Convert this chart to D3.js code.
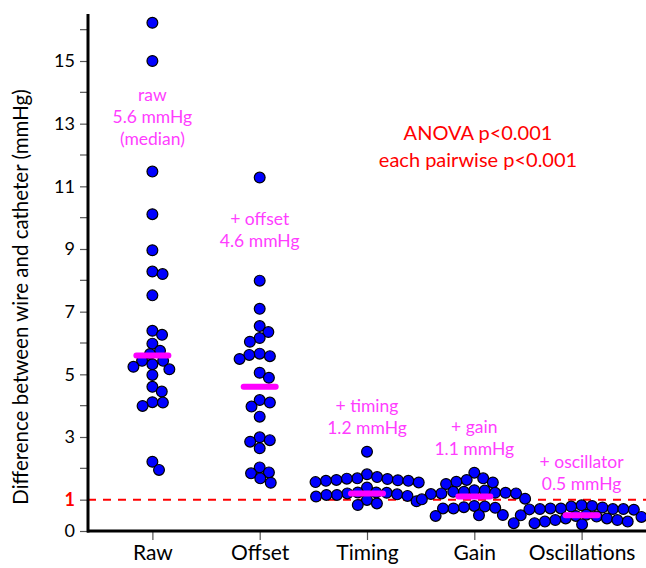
<!DOCTYPE html>
<html>
<head>
<meta charset="utf-8">
<script src="https://cdn.jsdelivr.net/npm/d3@7"></script>
<style>
  body { margin: 0; background: #fff; }
  svg { display: block; font-family: Lato, "Open Sans", sans-serif; }
</style>
</head>
<body>
<div id="chart"></div>
<script>
let width = 646, height = 568;

// Data
const categories = ['Raw', 'Offset', 'Timing', 'Gain', 'Oscillations'];
const rawValues = [16.22, 15.0, 11.47, 10.11, 8.96, 8.28, 8.2, 7.52, 6.39, 6.26, 5.98, 5.75, 5.65,
  5.43, 5.43, 5.32, 5.24, 5.16, 4.98, 4.6, 4.45, 4.11, 4.1, 3.99, 2.21, 1.95];
const offsetValues = [11.28, 7.99, 7.09, 6.54, 6.35, 6.16, 6.04, 5.66, 5.62, 5.49, 5.58, 5.05, 4.89,
  4.18, 4.1, 3.97, 3.65, 2.99, 2.9, 2.85, 2.64, 2.03, 1.87, 1.84, 1.68, 1.54];
const timingValues = [2.53, 1.81, 1.68, 1.66, 1.62, 1.6, 1.55, 1.56, 1.6, 1.63, 1.67, 1.72, 1.39,
  1.23, 1.2, 1.17, 1.1, 0.99, 0.95, 0.83, 0.88, 1.12, 1.15, 1.22, 1.23, 1.15];
const gainValues = [1.86, 1.68, 1.55, 1.5, 1.57, 1.63, 1.29, 1.18, 1.03, 1.22, 1.25, 1.2, 1.25,
  1.3, 1.01, 1.2, 1.22, 0.74, 0.72, 0.78, 0.76, 0.8, 0.72, 0.5, 0.48, 0.51];
const oscValues = [0.82, 0.72, 0.7, 0.68, 0.7, 0.69, 0.72, 0.75, 0.78, 0.8, 0.7, 0.52, 0.5,
  0.45, 0.4, 0.35, 0.3, 0.25, 0.21, 0.25, 0.3, 0.35, 0.4, 0.44, 0.46, 0.48];
const seriesValues = [rawValues, offsetValues, timingValues, gainValues, oscValues];
const medians = [5.6, 4.6, 1.2, 1.1, 0.5];
const medianLabels = [
  ['raw', '5.6 mmHg', '(median)'],
  ['+ offset', '4.6 mmHg'],
  ['+ timing', '1.2 mmHg'],
  ['+ gain', '1.1 mmHg'],
  ['+ oscillator', '0.5 mmHg']
];
const yMajorTicks = [0, 1, 3, 5, 7, 9, 11, 13, 15];
const yMinorTicks = [2, 4, 6, 8, 10, 12, 14, 16];
const statsText = ['ANOVA p<0.001', 'each pairwise p<0.001'];

const svg = d3.select('#chart').append('svg')
  .attr('width', width)
  .attr('height', height);

const x = d3.scalePoint()
  .domain(categories)
  .range([88, 646])
  .padding(0.6);

const y = d3.scaleLinear()
  .domain([0, 16.5])
  .range([531, 14]);

// threshold line at 1 mmHg
svg.append('line')
  .attr('x1', 88).attr('x2', width)
  .attr('y1', y(1)).attr('y2', y(1))
  .attr('stroke', '#ff0000')
  .attr('stroke-width', 2)
  .attr('stroke-dasharray', '8,7');

// simple beeswarm: nearest free x to the center, top to bottom
const swarm = (values, cx, d) => {
  const pts = values.map(v => ({ v, y: y(v) })).sort((a, b) => a.y - b.y);
  const placed = [];
  pts.forEach(p => {
    const near = placed.filter(q => Math.abs(q.y - p.y) < d);
    const cands = [cx];
    near.forEach(q => {
      const dx = Math.sqrt(d * d - (q.y - p.y) ** 2);
      cands.push(q.x + dx, q.x - dx);
    });
    cands.sort((a, b) => Math.abs(a - cx) - Math.abs(b - cx));
    p.x = cands.find(c => near.every(q => (q.x - c) ** 2 + (q.y - p.y) ** 2 >= d * d - 0.01));
    placed.push(p);
  });
  return pts;
};

// points
categories.forEach((cat, i) => {
  svg.append('g').selectAll('circle')
    .data(swarm(seriesValues[i], x(cat), 10.5))
    .join('circle')
      .attr('cx', d => d.x)
      .attr('cy', d => d.y)
      .attr('r', 5.4)
      .attr('fill', '#0000ff')
      .attr('stroke', '#000')
      .attr('stroke-width', 1.2);
});

// median bars
svg.append('g').selectAll('line')
  .data(medians)
  .join('line')
    .attr('x1', (d, i) => x(categories[i]) - 16)
    .attr('x2', (d, i) => x(categories[i]) + 16)
    .attr('y1', d => y(d))
    .attr('y2', d => y(d))
    .attr('stroke', '#ff00ff')
    .attr('stroke-width', 6)
    .attr('stroke-linecap', 'round');

// median labels
const labelTop = [101, 225, 412, 433, 468];
medianLabels.forEach((lines, i) => {
  svg.append('text')
    .attr('text-anchor', 'middle')
    .attr('fill', '#ff3dff')
    .style('font-size', '17.5px')
    .selectAll('tspan')
    .data(lines)
    .join('tspan')
      .attr('x', x(categories[i]))
      .attr('y', (d, j) => labelTop[i] + j * 22)
      .text(d => d);
});

// stats
svg.append('text')
  .attr('text-anchor', 'middle')
  .attr('fill', '#ff0000')
  .style('font-size', '20px')
  .selectAll('tspan')
  .data(statsText)
  .join('tspan')
    .attr('x', 478)
    .attr('y', (d, j) => 140 + j * 27)
    .text(d => d);

// x axis
const xAxis = svg.append('g')
  .attr('transform', `translate(0,${y(0)})`)
  .call(d3.axisBottom(x).tickSize(9).tickPadding(5));
xAxis.select('.domain').remove();
xAxis.selectAll('.tick line').attr('stroke', '#555').attr('stroke-width', 1.2);
xAxis.selectAll('.tick text')
  .attr('fill', '#000')
  .style('font-size', '21px')
  .style('font-family', 'Lato, "Open Sans", sans-serif');
svg.append('line')
  .attr('x1', 87).attr('x2', width)
  .attr('y1', y(0)).attr('y2', y(0))
  .attr('stroke', '#000').attr('stroke-width', 3);

// y axis
const yAxis = svg.append('g')
  .attr('transform', 'translate(88,0)')
  .call(d3.axisLeft(y).tickValues(yMajorTicks).tickSize(8).tickPadding(5));
yAxis.select('.domain').remove();
yAxis.selectAll('.tick line').attr('stroke', '#555').attr('stroke-width', 1.2);
yAxis.selectAll('.tick text')
  .attr('fill', d => d === 1 ? '#ff0000' : '#000')
  .style('font-weight', d => d === 1 ? 'bold' : 'normal')
  .style('font-size', '18px')
  .style('font-family', 'Lato, "Open Sans", sans-serif');
svg.append('g').selectAll('line')
  .data(yMinorTicks)
  .join('line')
    .attr('x1', 80).attr('x2', 88)
    .attr('y1', d => y(d)).attr('y2', d => y(d))
    .attr('stroke', '#555').attr('stroke-width', 1.2);
svg.append('line')
  .attr('x1', 88).attr('x2', 88)
  .attr('y1', y(16.5)).attr('y2', y(0) + 1.5)
  .attr('stroke', '#000').attr('stroke-width', 3);

// y title
svg.append('text')
  .attr('transform', `translate(28,${297}) rotate(-90)`)
  .attr('text-anchor', 'middle')
  .style('font-size', '20.5px')
  .text('Difference between wire and catheter (mmHg)');
</script>
</body>
</html>
